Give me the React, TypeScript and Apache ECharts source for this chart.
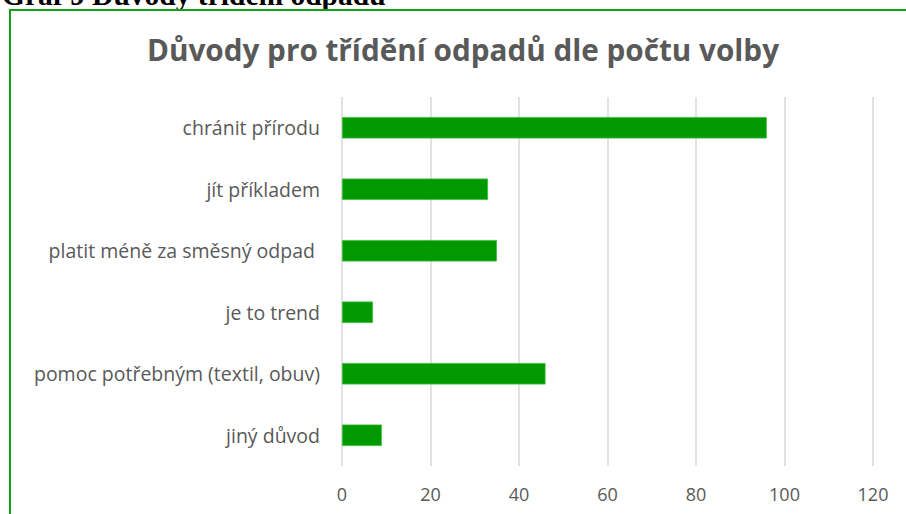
import React, { useEffect, useRef } from "react";
import * as echarts from "echarts";

const categories = [
  "chránit přírodu",
  "jít příkladem",
  "platit méně za směsný odpad ",
  "je to trend",
  "pomoc potřebným (textil, obuv)",
  "jiný důvod",
];
const values = [96, 33, 35, 7, 46, 9];
const xTicks = [0, 20, 40, 60, 80, 100, 120];

const headerText = "Graf 9 Důvody třídění odpadů";
const titleText = "Důvody pro třídění odpadů dle počtu volby";

export default function App() {
  const ref = useRef<HTMLDivElement>(null);
  useEffect(() => {
    if (!ref.current) return;
    const chart = echarts.init(ref.current, undefined, { renderer: "svg" });
    chart.setOption({
      animation: false,
      backgroundColor: "#ffffff",
      graphic: [
        {
          type: "text",
          left: 2,
          top: -20,
          style: {
            text: headerText,
            font: "bold 29.5px 'Liberation Serif', 'Times New Roman', serif",
            fill: "#000000",
          },
        },
        {
          type: "rect",
          shape: { x: 10, y: 10, width: 1000, height: 1000 },
          style: { fill: "none", stroke: "#13a013", lineWidth: 2 },
        },
      ],
      title: {
        text: titleText,
        left: 458,
        textAlign: "center",
        top: 29,
        textStyle: {
          fontFamily: "Open Sans",
          fontWeight: "bold",
          fontSize: 29.7,
          color: "#595959",
        },
      },
      grid: { left: 342, right: 33, top: 97, bottom: 48, containLabel: false },
      xAxis: {
        type: "value",
        min: xTicks[0],
        max: xTicks[xTicks.length - 1],
        interval: 20,
        axisLine: { show: false },
        axisTick: { show: false },
        splitLine: { show: true, lineStyle: { color: "#d9d9d9", width: 1.5 } },
        axisLabel: {
          margin: 19,
          fontFamily: "Open Sans",
          fontSize: 18,
          color: "#595959",
        },
      },
      yAxis: {
        type: "category",
        inverse: true,
        data: categories,
        axisLine: { show: false },
        axisTick: { show: false },
        axisLabel: {
          margin: 22,
          fontFamily: "Open Sans",
          fontSize: 19.5,
          color: "#595959",
        },
      },
      series: [
        {
          type: "bar",
          data: values,
          barCategoryGap: "65%",
          itemStyle: { color: "#009900", borderColor: "#3dbb3d", borderWidth: 0.8 },
        },
      ],
    });
    return () => chart.dispose();
  }, []);
  return (
    <div
      ref={ref}
      style={{ position: "fixed", left: 0, top: 0, width: 906, height: 514 }}
    />
  );
}
